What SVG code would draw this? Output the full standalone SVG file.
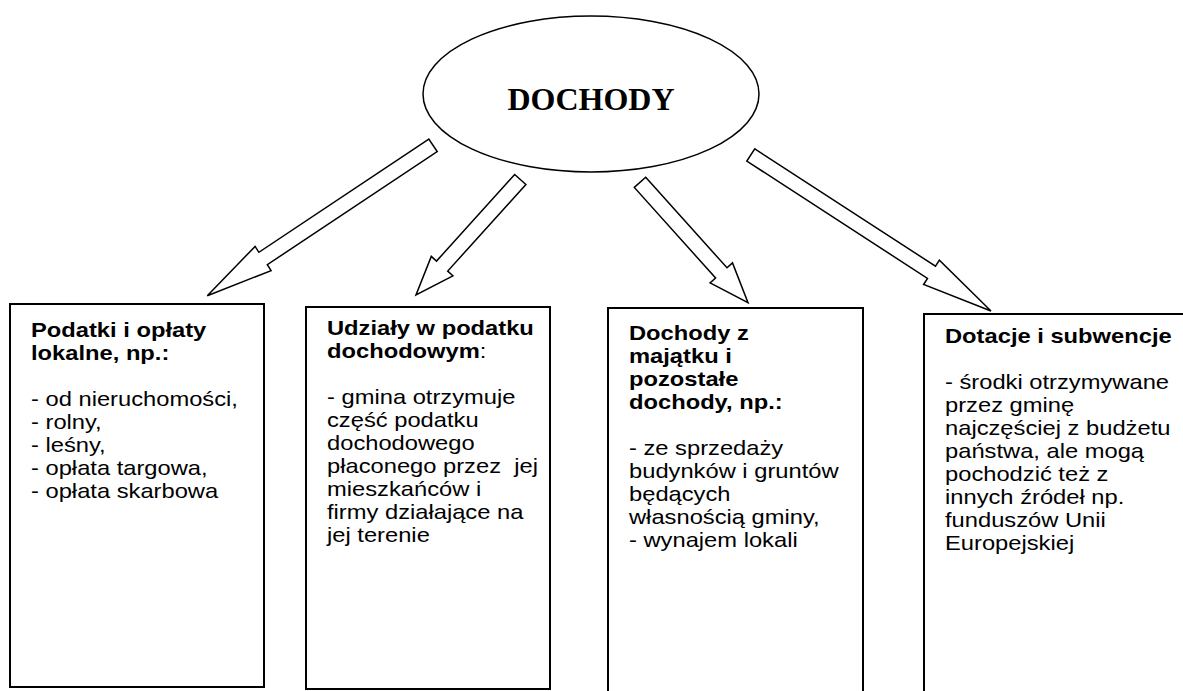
<svg xmlns="http://www.w3.org/2000/svg" width="1183" height="691" viewBox="0 0 1183 691">
<style>
.box{fill:#fff;stroke:#000;stroke-width:2}
.arr{fill:#fff;stroke:#000;stroke-width:1.5;stroke-linejoin:miter}
.h{font-family:"Liberation Sans",Arial,sans-serif;font-weight:bold;font-size:21px;fill:#000}
.b{font-family:"Liberation Sans",Arial,sans-serif;font-size:21px;fill:#000}
.n{font-weight:normal}
.title{font-family:"Liberation Serif","Times New Roman",serif;font-weight:bold;font-size:32px;fill:#000}
</style>
<rect width="1183" height="691" fill="#fff"/>
<g id="connectors">
<polygon class="arr" points="428.8,139.1 258.9,252.3 255.1,246.4 207.3,295.7 271.1,270.6 267.3,264.7 437.2,151.5"/>
<polygon class="arr" points="514.7,174.5 436.5,261.1 431.3,256.4 416,295 452.9,275.8 447.7,271.1 525.9,184.5"/>
<polygon class="arr" points="645.7,177.2 727.0,267.8 732.5,262.9 748,302.7 710.1,282.9 715.6,278.0 634.3,187.4"/>
<polygon class="arr" points="754.8,148.9 935.5,266.2 939.4,260.1 991,311 923.6,284.5 927.5,278.4 746.8,161.1"/>
</g>
<g id="dochody">
<ellipse cx="591" cy="94" rx="168" ry="78" fill="#fff" stroke="#000" stroke-width="1.5"/>
<text class="title" x="591" y="110" text-anchor="middle">DOCHODY</text>
</g>
<g id="box1">
<rect class="box" x="10" y="304" width="254" height="383"/>
<g transform="translate(31,0) scale(1.13,1)">
<text class="h"><tspan x="0" y="337">Podatki i opłaty</tspan><tspan x="0" y="360">lokalne, np.:</tspan></text>
<text class="b"><tspan x="0" y="406">- od nieruchomości,</tspan><tspan x="0" y="429">- rolny,</tspan><tspan x="0" y="452">- leśny,</tspan><tspan x="0" y="475">- opłata targowa,</tspan><tspan x="0" y="498">- opłata skarbowa</tspan></text>
</g>
</g>
<g id="box2">
<rect class="box" x="306" y="307" width="244" height="382"/>
<g transform="translate(327,0) scale(1.13,1)">
<text class="h"><tspan x="0" y="335">Udziały w podatku</tspan><tspan x="0" y="358">dochodowym<tspan class="n">:</tspan></tspan></text>
<text class="b" style="white-space:pre"><tspan x="0" y="404">- gmina otrzymuje</tspan><tspan x="0" y="427">część podatku</tspan><tspan x="0" y="450">dochodowego</tspan><tspan x="0" y="473">płaconego przez  jej</tspan><tspan x="0" y="496">mieszkańców i</tspan><tspan x="0" y="519">firmy działające na</tspan><tspan x="0" y="542">jej terenie</tspan></text>
</g>
</g>
<g id="box3">
<rect class="box" x="608" y="308" width="255" height="400"/>
<g transform="translate(629,0) scale(1.13,1)">
<text class="h"><tspan x="0" y="340">Dochody z</tspan><tspan x="0" y="363">majątku i</tspan><tspan x="0" y="386">pozostałe</tspan><tspan x="0" y="409">dochody, np.:</tspan></text>
<text class="b"><tspan x="0" y="455">- ze sprzedaży</tspan><tspan x="0" y="478">budynków i gruntów</tspan><tspan x="0" y="501">będących</tspan><tspan x="0" y="524">własnością gminy,</tspan><tspan x="0" y="547">- wynajem lokali</tspan></text>
</g>
</g>
<g id="box4">
<rect class="box" x="924" y="314" width="290" height="400"/>
<g transform="translate(945,0) scale(1.13,1)">
<text class="h"><tspan x="0" y="343">Dotacje i subwencje</tspan></text>
<text class="b"><tspan x="0" y="389">- środki otrzymywane</tspan><tspan x="0" y="412">przez gminę</tspan><tspan x="0" y="435">najczęściej z budżetu</tspan><tspan x="0" y="458">państwa, ale mogą</tspan><tspan x="0" y="481">pochodzić też z</tspan><tspan x="0" y="504">innych źródeł np.</tspan><tspan x="0" y="527">funduszów Unii</tspan><tspan x="0" y="550">Europejskiej</tspan></text>
</g>
</g>
</svg>
